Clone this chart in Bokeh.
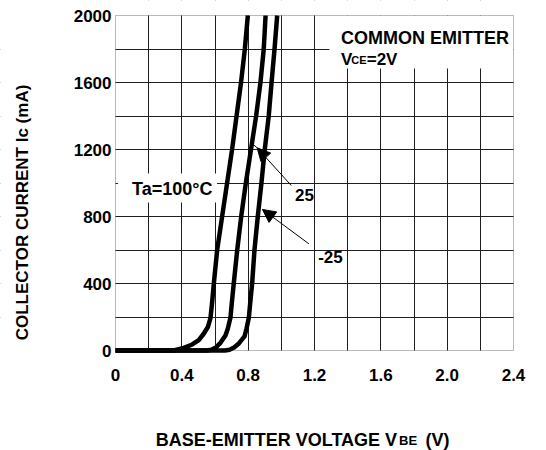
import math
from bokeh.plotting import figure
from bokeh.models import (Range1d, FixedTicker, Label, BoxAnnotation, Arrow,
                          NormalHead, CustomJSTickFormatter)
from bokeh.embed import file_html
from bokeh.resources import INLINE

# ---- data ----
v_100 = [0, 0.35, 0.412, 0.463, 0.502, 0.532, 0.557, 0.573, 0.582, 0.593, 0.613, 0.643, 0.673, 0.703, 0.73, 0.757, 0.78, 0.798]
i_100 = [0, 0, 16, 36, 62, 100, 140, 195, 280, 400, 600, 800, 1000, 1200, 1400, 1600, 1800, 2000]

v_25 = [0, 0.55, 0.578, 0.605, 0.633, 0.663, 0.677, 0.693, 0.701, 0.713, 0.734, 0.758, 0.786, 0.817, 0.848, 0.874, 0.894, 0.905]
i_25 = [0, 0, 5, 18, 46, 90, 130, 195, 280, 400, 600, 800, 1000, 1200, 1400, 1600, 1800, 2000]

v_m25 = [0, 0.66, 0.688, 0.715, 0.744, 0.778, 0.79, 0.804, 0.812, 0.824, 0.838, 0.858, 0.88, 0.90, 0.924, 0.941, 0.959, 0.975]
i_m25 = [0, 0, 5, 18, 42, 84, 130, 195, 280, 400, 600, 800, 1000, 1200, 1400, 1600, 1800, 2000]

x_ticks = [0, 0.4, 0.8, 1.2, 1.6, 2.0, 2.4]
x_tick_labels = ["0", "0.4", "0.8", "1.2", "1.6", "2.0", "2.4"]
y_ticks = [0, 400, 800, 1200, 1600, 2000]
y_tick_labels = ["0", "400", "800", "1200", "1600", "2000"]
x_grid = [0.2, 0.4, 0.6, 0.8, 1.0, 1.2, 1.4, 1.6, 1.8, 2.0, 2.2]
y_grid = [200, 400, 600, 800, 1000, 1200, 1400, 1600, 1800]
X_MIN, X_MAX = 0, 2.4
Y_MIN, Y_MAX = 0, 2000

# ---- layout (pixels of the canvas) ----
W, H = 546, 450
PLOT_L, PLOT_R, PLOT_T, PLOT_B = 115, 513, 15, 350
sx = (PLOT_R - PLOT_L) / (X_MAX - X_MIN)
sy = (PLOT_B - PLOT_T) / (Y_MAX - Y_MIN)
x_range = Range1d(X_MIN - PLOT_L / sx, X_MAX + (W - PLOT_R) / sx)
y_range = Range1d(Y_MIN - (H - PLOT_B) / sy, Y_MAX + PLOT_T / sy)

FONT = "Liberation Sans"

p = figure(width=W, height=H, x_range=x_range, y_range=y_range,
           output_backend="svg", toolbar_location=None, min_border=0)
p.background_fill_color = "white"
p.border_fill_color = "white"
p.outline_line_color = None

fmt_code = """
const i = tvals.findIndex(t => Math.abs(t - tick) < 1e-9);
return i >= 0 ? tlabels[i] : '';
"""
p.xaxis.ticker = FixedTicker(ticks=x_ticks)
p.xaxis.formatter = CustomJSTickFormatter(args=dict(tvals=x_ticks, tlabels=x_tick_labels), code=fmt_code)
p.yaxis.ticker = FixedTicker(ticks=y_ticks)
p.yaxis.formatter = CustomJSTickFormatter(args=dict(tvals=y_ticks, tlabels=y_tick_labels), code=fmt_code)
for ax in (p.xaxis, p.yaxis):
    ax.fixed_location = 0
    ax.axis_line_color = None
    ax.major_tick_line_color = None
    ax.minor_tick_line_color = None
    ax.major_tick_out = 0
    ax.major_tick_in = 0
    ax.major_label_text_font = FONT
    ax.major_label_text_font_style = "bold"
    ax.major_label_text_font_size = "17px"
    ax.major_label_text_color = "black"
p.xaxis.major_label_standoff = 18
p.yaxis.major_label_standoff = 4

p.xgrid.ticker = FixedTicker(ticks=x_grid)
p.ygrid.ticker = FixedTicker(ticks=y_grid)
for g in (p.xgrid, p.ygrid):
    g.grid_line_color = "#1f1f1f"
    g.grid_line_width = 1
    g.grid_line_alpha = 1

def white_box(**kw):
    p.add_layout(BoxAnnotation(fill_color="white", fill_alpha=1, line_color=None,
                               level="underlay", **kw))

# keep the grid inside the plotting box
white_box(right=X_MIN)
white_box(left=X_MAX)
white_box(top=Y_MIN)
white_box(bottom=Y_MAX)
# white boxes behind the in-plot labels
white_box(left=1.29, right=X_MAX, bottom=1684, top=Y_MAX)
white_box(left=0.015, right=0.612, bottom=884, top=1057)

# plot border
p.add_layout(BoxAnnotation(left=X_MIN, right=X_MAX, bottom=Y_MIN, top=Y_MAX,
                           fill_alpha=0, line_color="#1a1a1a", line_width=1))

for vx, iy in ((v_100, i_100), (v_25, i_25), (v_m25, i_m25)):
    p.line(vx, iy, line_color="black", line_width=4.5, line_join="round")

def lab(x, y, text, size, align="left", baseline="alphabetic", angle=0):
    p.add_layout(Label(x=x, y=y, text=text, text_font=FONT, text_font_style="bold",
                       text_font_size=size, text_align=align, text_baseline=baseline,
                       text_color="black", angle=angle))

# in-plot annotations
lab(1.36, 1867, "COMMON EMITTER", "18px")
lab(1.36, 1735, "V", "17px")
lab(1.422, 1735, "CE", "11px")
lab(1.515, 1735, "=2V", "17px")
lab(0.342, 967, "Ta=100°C", "18px", align="center", baseline="middle")
lab(1.14, 930, "25", "17px", align="center", baseline="middle")
lab(1.296, 560, "-25", "17px", align="center", baseline="middle")

p.add_layout(Arrow(end=NormalHead(size=13, fill_color="black", line_color="black"),
                   x_start=1.06, y_start=985, x_end=0.854, y_end=1210,
                   line_color="black", line_width=1))
p.add_layout(Arrow(end=None, x_start=0.854, y_start=1210, x_end=0.826, y_end=1234,
                   line_color="black", line_width=1))
p.add_layout(Arrow(end=NormalHead(size=13, fill_color="black", line_color="black"),
                   x_start=1.166, y_start=637, x_end=0.886, y_end=842,
                   line_color="black", line_width=1))

# axis titles
lab(1.698, -537, "BASE-EMITTER VOLTAGE V", "18px", align="right")
lab(1.71, -537, "BE", "13px")
lab(1.87, -537, "(V)", "18px")
lab(-0.561, 824, "COLLECTOR CURRENT Ic (mA)", "17px", align="center", baseline="middle",
    angle=math.pi / 2)

open("out.html", "w").write(file_html(p, INLINE))
